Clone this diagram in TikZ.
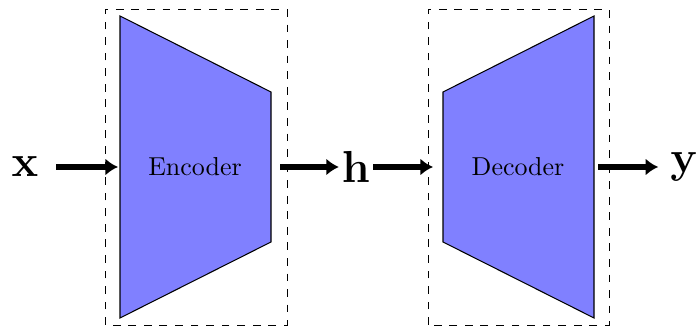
\documentclass[tikz,border=0pt]{standalone}
\usepackage{tikz}
\usetikzlibrary{arrows.meta,calc}

\tikzset{
  box/.style={draw,dashed,line width=0.3pt},
  net/.style={draw,fill=blue!50},
  flow/.style={-{Latex[length=1.7mm,width=2.3mm]},line width=2.2pt},
  lbl/.style={font=\LARGE,inner sep=1pt}
}

\begin{document}
\begin{tikzpicture}[x=0.1355mm,y=0.1355mm]
    \useasboundingbox (0,0) rectangle (700,326);
    % encoder
    \draw[box] (105,1) rectangle (287,317);
    \draw[net] (120,310) -- (271,234) -- (271,84) -- (120,8) -- cycle;
    \node (enc) at (195,159) {Encoder};
    % decoder
    \draw[box] (428,1) rectangle (609,317);
    \draw[net] (443,234) -- (594,310) -- (594,8) -- (443,84) -- cycle;
    \node (dec) at (518,159) {Decoder};
    % signals
    \node[lbl] (x) at (25,159) {$\mathbf{x}$};
    \node[lbl] (h) at (356,159) {$\mathbf{h}$};
    \node[lbl] (y) at (684,159) {$\mathbf{y}$};
    \coordinate (ein) at (118,159);
    \coordinate (eout) at (280,159);
    \coordinate (din) at (433,159);
    \coordinate (dout) at (598,159);
    \draw[flow] ($(x.east)+(15,0)$) -- (ein);
    \draw[flow] (eout) -- (h.west);
    \draw[flow] (h.east) -- (din);
    \draw[flow] (dout) -- ($(y.west)+(-9,0)$);
  \end{tikzpicture}
\end{document}
